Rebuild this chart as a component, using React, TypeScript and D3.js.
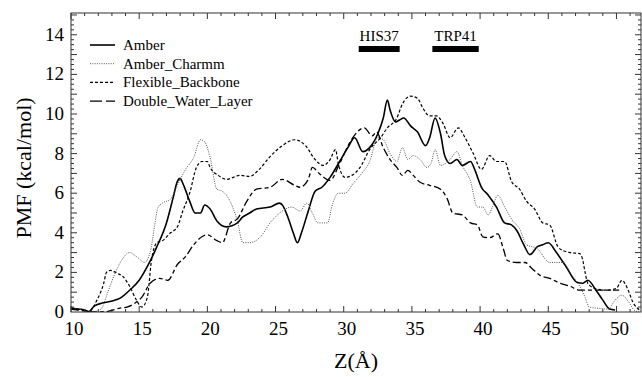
import React, { useEffect } from "react";
import * as d3 from "d3";

const xTickLabels = [10, 15, 20, 25, 30, 35, 40, 45, 50];
const yTickLabels = [0, 2, 4, 6, 8, 10, 12, 14];

const seriesNames = ["Amber", "Amber_Charmm", "Flexible_Backbone", "Double_Water_Layer"];

const amberX = [10, 10.5, 11, 11.3, 11.7, 12.3, 13.1, 13.6, 14.3, 15.0, 15.6, 16.3, 17.0, 17.5, 17.8, 18.0, 18.2, 18.7, 19.1, 19.5, 19.8, 20.2, 20.7, 21.4, 22.2, 22.6, 23.1, 23.6, 24.6, 25.3, 25.5, 25.9, 26.3, 26.6, 26.9, 27.4, 27.9, 28.4, 29.0, 29.7, 30.3, 30.8, 31.4, 31.9, 32.5, 32.9, 33.2, 33.4, 33.8, 34.1, 34.4, 34.9, 35.4, 36.0, 36.3, 36.7, 37.1, 37.4, 37.8, 38.3, 38.7, 39.3, 39.6, 40.1, 40.6, 41.2, 41.8, 42.3, 42.7, 43.2, 43.65, 44.2, 44.6, 45.0, 45.6, 46.3, 47.1, 47.5, 47.9, 48.5, 49.0, 49.5, 49.9];
const amberY = [0.2, 0.15, 0.1, 0.02, 0.3, 0.45, 0.57, 0.7, 1.1, 1.6, 2.3, 3.3, 4.5, 5.8, 6.6, 6.75, 6.5, 5.6, 5.0, 5.0, 5.4, 5.2, 4.6, 4.3, 4.5, 4.8, 5.0, 5.2, 5.3, 5.5, 5.4, 4.8, 4.0, 3.5, 4.0, 5.1, 6.1, 6.3, 6.8, 7.6, 8.3, 8.8, 8.1, 8.3, 9.0, 9.8, 10.7, 10.2, 9.6, 9.7, 9.8, 9.4, 9.1, 8.4, 8.8, 9.8, 9.0, 7.9, 7.5, 7.7, 7.4, 7.6, 7.2, 6.3, 5.9, 5.3, 4.5, 4.4, 4.1, 3.4, 2.9, 3.3, 3.4, 3.5, 3.0, 2.3, 1.5, 1.45, 1.6, 1.1, 0.6, 0.15, 0.1];

const charmmX = [10, 10.5, 11, 11.3, 12.0, 12.3, 12.7, 13.2, 13.7, 14.3, 14.8, 15.4, 15.8, 16.4, 16.7, 17.3, 17.8, 18.4, 19.0, 19.5, 19.8, 20.2, 20.7, 21.1, 21.5, 22.2, 22.6, 23.1, 23.9, 24.6, 25.3, 26.2, 26.8, 27.3, 27.7, 28.1, 28.8, 29.2, 29.6, 30.1, 30.7, 31.2, 31.9, 32.5, 32.9, 33.4, 33.9, 34.3, 34.7, 35.1, 35.6, 36.1, 36.4, 36.7, 37.1, 37.8, 38.3, 38.7, 39.3, 39.8, 40.2, 40.6, 40.9, 41.3, 41.8, 42.4, 42.9, 43.4, 44.2, 45.1, 46.1, 46.6, 47.3, 47.7, 48.0, 48.5, 49.4, 49.9, 50.4, 50.9, 51.3, 51.7];
const charmmY = [0.2, 0.15, 0.1, 0.02, 0.05, 0.25, 1.0, 1.9, 2.6, 3.0, 2.8, 2.5, 3.0, 5.3, 5.5, 5.7, 6.4, 7.2, 7.8, 8.7, 8.6, 7.8, 6.2, 6.1, 5.8, 4.6, 3.5, 3.5, 3.8, 4.5, 5.0, 5.3, 5.1, 5.5, 5.0, 4.5, 4.5, 5.5, 6.0, 6.0, 6.5, 6.9, 7.6, 8.8, 8.7, 8.0, 7.6, 8.3, 7.7, 7.9, 7.7, 7.3, 7.5, 8.2, 7.4, 7.7, 8.1, 7.4, 6.6, 5.3, 5.3, 4.9, 5.3, 5.9, 5.3, 4.6, 4.2, 3.4, 3.2, 2.5, 2.5, 2.0, 1.3, 0.75, 0.25, 0.2, 0.15, 0.6, 0.85, 0.5, 0.1, 0.0];

const flexX = [10, 10.5, 11, 11.3, 11.9, 12.4, 12.6, 12.9, 13.4, 13.8, 14.3, 14.8, 15.2, 15.6, 15.9, 16.3, 16.7, 17.3, 17.8, 18.2, 18.7, 19.2, 19.6, 20.0, 20.2, 20.8, 21.4, 22.4, 23.1, 23.8, 24.6, 25.5, 26.4, 27.2, 27.9, 28.5, 29.0, 29.4, 29.6, 30.1, 30.6, 31.2, 31.9, 32.7, 33.2, 33.9, 34.3, 34.9, 35.4, 35.8, 36.3, 36.8, 37.3, 37.8, 38.4, 38.9, 39.5, 40.1, 40.7, 41.2, 41.8, 42.3, 42.9, 43.4, 44.0, 44.6, 45.1, 45.7, 46.1, 46.6, 47.3, 47.5, 47.7, 47.9, 48.4, 49.3, 50.0, 50.4, 50.8, 51.2, 51.7];
const flexY = [0.2, 0.15, 0.1, 0.02, 0.6, 1.45, 2.0, 2.1, 1.95, 1.8, 1.3, 0.6, 0.25, 0.75, 2.6, 3.5, 3.6, 4.0, 4.3, 5.1, 6.0, 7.3, 7.6, 7.6, 7.3, 6.9, 6.7, 6.9, 6.85, 7.2, 7.85, 8.4, 8.7, 8.4, 7.7, 7.4, 7.7, 8.2, 7.5, 6.8, 6.9, 7.3, 8.2, 8.8, 9.3, 9.8, 10.5, 10.9, 10.8, 10.3, 9.9, 9.9, 9.5, 8.8, 9.3, 8.8, 8.0, 7.2, 7.9, 7.6, 7.6, 6.6, 6.2, 5.6, 5.2, 4.5, 4.4, 3.3, 3.1, 3.0, 2.95, 2.7, 2.0, 1.45, 1.2, 1.1, 1.2, 1.6, 1.2, 0.5, 0.1];

const dwlX = [10, 10.5, 11, 11.5, 12.6, 13.6, 14.1, 14.8, 15.2, 15.8, 16.5, 17.1, 17.8, 18.4, 19.0, 19.6, 20.0, 20.7, 21.1, 21.7, 22.2, 22.9, 23.6, 24.6, 25.5, 26.4, 26.8, 27.4, 27.7, 28.2, 29.0, 29.7, 30.4, 31.0, 31.5, 32.1, 32.4, 32.9, 33.4, 33.9, 34.3, 34.7, 35.1, 35.6, 36.3, 37.1, 37.6, 38.0, 38.7, 39.3, 39.8, 40.2, 40.7, 41.3, 41.7, 42.0, 42.7, 43.3, 43.8, 44.4, 45.1, 45.9, 46.6, 47.3, 48.2, 49.0, 49.7, 50.2];
const dwlY = [0.15, 0.1, 0.05, 0.0, 0.02, 0.2, 0.25, 0.5, 0.75, 1.45, 1.7, 1.6, 2.4, 2.8, 3.4, 3.8, 3.9, 3.6, 3.5, 4.5, 4.7, 5.6, 6.2, 6.3, 6.7, 6.4, 6.3, 6.7, 7.3, 7.0, 6.65, 7.5, 8.5, 9.1, 9.3, 8.9, 9.1, 8.3, 7.7, 7.3, 6.9, 7.15, 6.9, 6.55, 6.4, 6.2, 5.7, 5.0, 4.9, 4.5, 4.4, 3.8, 3.75, 3.95, 3.2, 2.6, 2.5, 2.5, 2.2, 1.85, 1.7, 1.45, 1.3, 1.1, 1.1, 1.1, 1.1, 1.1];

const residueNames = ["HIS37", "TRP41"];
const residueStart = [31.1, 36.5];
const residueEnd = [34.1, 39.9];

const W = 642, H = 377;
const L = 71, R = 641, T = 13, B = 312;
const FONT = "'Liberation Serif', 'Times New Roman', serif";

const styles = [
  { stroke: "#000", width: 1.6, dash: null as string | null },
  { stroke: "#555", width: 1.0, dash: "1,1.3" },
  { stroke: "#000", width: 1.2, dash: "3,2" },
  { stroke: "#000", width: 1.3, dash: "8,3,4,3" },
];

export default function App() {
  useEffect(() => {
    document.body.style.margin = "0";
  }, []);

  const x = d3.scaleLinear().domain([10, 51.8]).range([L, R]);
  const y = d3.scaleLinear().domain([0, 15.1]).range([B, T]);

  const allX = [amberX, charmmX, flexX, dwlX];
  const allY = [amberY, charmmY, flexY, dwlY];
  const line = d3
    .line<[number, number]>()
    .x((d) => x(d[0]))
    .y((d) => y(d[1]))
    .curve(d3.curveMonotoneX);

  const xMinor = d3.range(11, 52, 1).filter((v) => v % 5 !== 0);
  const xMajor = d3.range(10, 52, 5);
  const yMinor = d3.range(0.25, 15.1, 0.25).filter((v) => Math.abs(v - Math.round(v)) > 0.01);
  const yMajor = d3.range(1, 16, 1);

  const axisColor = "#333";

  return (
    <svg width={W} height={H} style={{ position: "absolute", left: 0, top: 0, background: "#fff" }}>
      <defs>
        <clipPath id="plot">
          <rect x={L} y={T} width={R - L} height={B - T} />
        </clipPath>
      </defs>
      <rect x={0} y={0} width={W} height={H} fill="#fff" />

      <g clipPath="url(#plot)">
        {allX.map((xs, i) => (
          <path
            key={seriesNames[i]}
            d={line(xs.map((v, j) => [v, allY[i][j]] as [number, number])) || ""}
            fill="none"
            stroke={styles[i].stroke}
            strokeWidth={styles[i].width}
            strokeDasharray={styles[i].dash || undefined}
          />
        ))}
      </g>

      <rect x={L} y={T} width={R - L} height={B - T} fill="none" stroke={axisColor} strokeWidth={1} />

      {xMinor.map((v) => (
        <g key={"xm" + v}>
          <line x1={x(v)} x2={x(v)} y1={B} y2={B - 3} stroke={axisColor} />
          <line x1={x(v)} x2={x(v)} y1={T} y2={T + 3} stroke={axisColor} />
        </g>
      ))}
      {xMajor.map((v) => (
        <g key={"xM" + v}>
          <line x1={x(v)} x2={x(v)} y1={B} y2={B - 6} stroke={axisColor} />
          <line x1={x(v)} x2={x(v)} y1={T} y2={T + 6} stroke={axisColor} />
        </g>
      ))}
      {yMinor.map((v) => (
        <g key={"ym" + v}>
          <line x1={L} x2={L + 3} y1={y(v)} y2={y(v)} stroke={axisColor} />
          <line x1={R} x2={R - 3} y1={y(v)} y2={y(v)} stroke={axisColor} />
        </g>
      ))}
      {yMajor.map((v) => (
        <g key={"yM" + v}>
          <line x1={L} x2={L + 6} y1={y(v)} y2={y(v)} stroke={axisColor} />
          <line x1={R} x2={R - 6} y1={y(v)} y2={y(v)} stroke={axisColor} />
        </g>
      ))}

      {xTickLabels.map((v) => (
        <text key={"xl" + v} x={x(v) + 3} y={335} textAnchor="middle" fontFamily={FONT} fontSize={19}>
          {v}
        </text>
      ))}
      {yTickLabels.map((v) => (
        <text key={"yl" + v} x={64} y={y(v) + 6} textAnchor="end" fontFamily={FONT} fontSize={19}>
          {v}
        </text>
      ))}

      <text x={(L + R) / 2} y={368} textAnchor="middle" fontFamily={FONT} fontSize={22}>
        Z(Å)
      </text>
      <text transform={`translate(31, ${168}) rotate(-90)`} textAnchor="middle" fontFamily={FONT} fontSize={22}>
        PMF (kcal/mol)
      </text>

      {seriesNames.map((n, i) => (
        <g key={"lg" + n} transform={`translate(90, ${45 + i * 18.7})`}>
          <line
            x1={0}
            x2={25}
            y1={0}
            y2={0}
            stroke={styles[i].stroke}
            strokeWidth={styles[i].width}
            strokeDasharray={i === 3 ? "12,4" : styles[i].dash || undefined}
          />
          <text x={33} y={5} fontFamily={FONT} fontSize={15}>
            {n}
          </text>
        </g>
      ))}

      {residueNames.map((n, i) => (
        <g key={"res" + n}>
          <rect x={x(residueStart[i])} y={46} width={x(residueEnd[i]) - x(residueStart[i])} height={6} fill="#000" />
          <text x={(x(residueStart[i]) + x(residueEnd[i])) / 2} y={41} textAnchor="middle" fontFamily={FONT} fontSize={15}>
            {n}
          </text>
        </g>
      ))}
    </svg>
  );
}
